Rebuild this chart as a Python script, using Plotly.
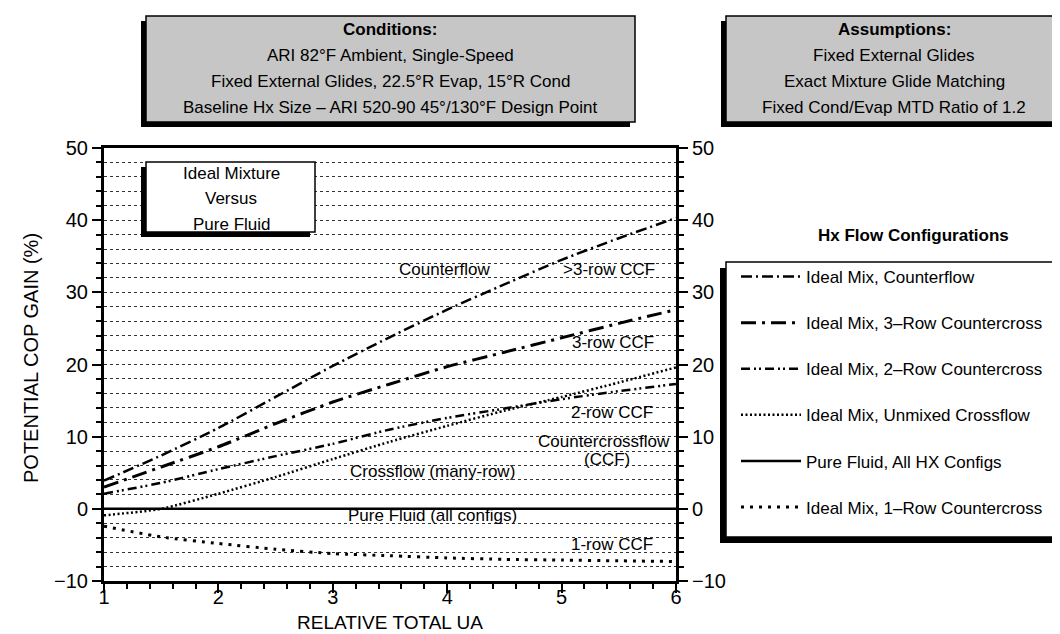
import plotly.graph_objects as go

# ---------------- data ----------------
rel_ua = [1.0, 1.5, 2.0, 2.5, 3.0, 3.5, 4.0, 4.5, 5.0, 5.5, 6.0]
counterflow = [3.9, 7.4, 11.2, 15.5, 19.8, 23.8, 27.6, 31.1, 34.5, 37.5, 40.3]
ccf_3row = [3.0, 5.8, 8.6, 11.8, 14.8, 17.3, 19.7, 21.7, 23.7, 25.7, 27.6]
ccf_2row = [2.1, 3.6, 5.5, 7.3, 9.0, 11.0, 12.6, 13.9, 15.2, 16.3, 17.3]
crossflow = [-0.9, 0.0, 2.1, 4.4, 6.9, 9.3, 11.5, 13.6, 15.5, 17.5, 19.6]
pure_fluid = [0, 0, 0, 0, 0, 0, 0, 0, 0, 0, 0]
ccf_1row = [-2.4, -3.9, -4.8, -5.6, -6.2, -6.5, -6.8, -7.0, -7.1, -7.2, -7.3]

series_names = [
    "Ideal Mix, Counterflow",
    "Ideal Mix, 3\u2013Row Countercross",
    "Ideal Mix, 2\u2013Row Countercross",
    "Ideal Mix, Unmixed Crossflow",
    "Pure Fluid, All HX Configs",
    "Ideal Mix, 1\u2013Row Countercross",
]

x_ticks = [1, 2, 3, 4, 5, 6]
y_ticks = [-10, 0, 10, 20, 30, 40, 50]

curve_labels = [
    ("Counterflow", 3.98, 33.1),
    (">3-row CCF", 5.41, 33.1),
    ("3-row CCF", 5.45, 23.0),
    ("2-row CCF", 5.44, 13.3),
    ("Countercrossflow", 5.37, 9.3),
    ("(CCF)", 5.40, 6.8),
    ("Crossflow (many-row)", 3.87, 5.2),
    ("Pure Fluid (all configs)", 3.87, -0.9),
    ("1-row CCF", 5.44, -5.0),
]

conditions_lines = [
    "<b>Conditions:</b>",
    "ARI 82\u00b0F Ambient, Single-Speed",
    "Fixed External Glides, 22.5\u00b0R Evap, 15\u00b0R Cond",
    "Baseline Hx Size \u2013 ARI 520-90 45\u00b0/130\u00b0F Design Point",
]
assumption_lines = [
    "<b>Assumptions:</b>",
    "Fixed External Glides",
    "Exact Mixture Glide Matching",
    "Fixed Cond/Evap MTD Ratio of 1.2",
]
ideal_lines = ["Ideal Mixture", "Versus", "Pure Fluid"]

# ---------------- geometry helpers (pixel -> paper) ----------------
L, R, T, B = 96, 668, 140, 573
W, H = 1060, 634


def PX(px):
    return (px - L) / (R - L)


def PY(py):
    return (B - py) / (B - T)


FONT = "Liberation Sans, Arial, Helvetica, sans-serif"

styles = [
    dict(width=2.5, dash="11px,4px,2px,4px"),
    dict(width=3, dash="15px,6px,3px,6px"),
    dict(width=2.5, dash="9px,4px,2px,3px,2px,4px"),
    dict(width=2.5, dash="2px,2.5px"),
    dict(width=2.5, dash="solid"),
    dict(width=3, dash="3px,6px"),
]
all_series = [counterflow, ccf_3row, ccf_2row, crossflow, pure_fluid, ccf_1row]

fig = go.Figure()
for i, (name, ys, st) in enumerate(zip(series_names, all_series, styles)):
    fig.add_trace(go.Scatter(
        x=rel_ua, y=ys, name=name, mode="lines",
        line=dict(color="black", width=st["width"], dash=st["dash"],
                  shape="spline", smoothing=0.6),
        legendgroup=f"g{i}",
    ))

# dummy trace to realize the right-hand axis
fig.add_trace(go.Scatter(x=[None], y=[None], yaxis="y2", showlegend=False,
                         hoverinfo="skip"))

shapes = []


def shadow_box(x0, y0, x1, y1, fill, off=5, layer="above", lw=1.5):
    shapes.append(dict(type="rect", xref="paper", yref="paper",
                       x0=PX(x0 - off), x1=PX(x1 - off), y0=PY(y0 + off), y1=PY(y1 + off),
                       fillcolor="black", line=dict(width=0), layer=layer))
    shapes.append(dict(type="rect", xref="paper", yref="paper",
                       x0=PX(x0), x1=PX(x1), y0=PY(y0), y1=PY(y1),
                       fillcolor=fill, line=dict(color="black", width=lw), layer=layer))


shadow_box(138, 8, 627, 114, "#c6c6c6")
shadow_box(718, 8, 1056, 114, "#c6c6c6")
shadow_box(138, 154, 307, 224, "white")
shadow_box(718, 254, 1064, 529, "white", off=6)


def ann(x, y, text, size=15, xref="paper", yref="paper", **kw):
    return dict(x=x, y=y, xref=xref, yref=yref, text=text, showarrow=False,
                xanchor="center", yanchor="middle",
                font=dict(family=FONT, size=size, color="black"), **kw)


annotations = []
for txt, xv, yv in curve_labels:
    annotations.append(ann(xv, yv, txt, 17, xref="x", yref="y"))

for i, t in enumerate(conditions_lines):
    annotations.append(ann(PX(382), PY(21 + 26.3 * i), t, 17))
for i, t in enumerate(assumption_lines):
    annotations.append(ann(PX(886), PY(21 + 26.3 * i), t, 17))
for i, t in enumerate(ideal_lines):
    annotations.append(ann(PX(223), PY(165 + 25.5 * i), t, 17))

annotations.append(ann(PX(905), PY(227), "<b>Hx Flow Configurations</b>", 17))
annotations.append(ann(PX(382), PY(614), "RELATIVE TOTAL UA", 19))
annotations.append(ann(PX(23), PY(350), "POTENTIAL COP GAIN (%)", 20, textangle=-90))

tickfont = dict(family=FONT, size=20, color="black")
grid_common = dict(griddash="dot", gridcolor="#333", gridwidth=1)

fig.update_layout(
    width=W, height=H,
    margin=dict(l=L, r=W - R, t=T, b=H - B, pad=0),
    paper_bgcolor="white", plot_bgcolor="white",
    showlegend=True,
    legend=dict(x=PX(728), y=PY(251), xanchor="left", yanchor="top",
                bgcolor="rgba(0,0,0,0)", borderwidth=0,
                font=dict(family=FONT, size=17, color="black"),
                tracegroupgap=21, itemwidth=60, traceorder="grouped"),
    xaxis=dict(range=[1, 6], tickvals=x_ticks, ticks="outside", ticklen=9, tickwidth=2,
               tickcolor="black", showline=True, linewidth=3, linecolor="black",
               mirror=True, showgrid=False, zeroline=False, tickfont=tickfont,
               automargin=False, ticklabelstandoff=-13,
               minor=dict(dtick=0.2, tick0=1, ticks="outside", ticklen=5, tickwidth=2,
                          tickcolor="black", showgrid=False)),
    yaxis=dict(range=[-10, 50], tickvals=y_ticks, ticks="outside", ticklen=9, tickwidth=2,
               tickcolor="black", showline=True, linewidth=3, linecolor="black",
               showgrid=True, **grid_common, zeroline=False, tickfont=tickfont,
               automargin=False,
               minor=dict(dtick=2, tick0=0, ticks="outside", ticklen=5, tickwidth=2,
                          tickcolor="black", showgrid=True, **grid_common)),
    yaxis2=dict(range=[-10, 50], overlaying="y", side="right", anchor="x",
                tickvals=y_ticks, ticks="outside", ticklen=9, tickwidth=2,
                tickcolor="black", showline=True, linewidth=3, linecolor="black",
                showgrid=False, zeroline=False, tickfont=tickfont, automargin=False,
                minor=dict(dtick=2, tick0=0, ticks="outside", ticklen=5, tickwidth=2,
                           tickcolor="black", showgrid=False)),
    shapes=shapes,
    annotations=annotations,
)

fig.write_html("out.html")
